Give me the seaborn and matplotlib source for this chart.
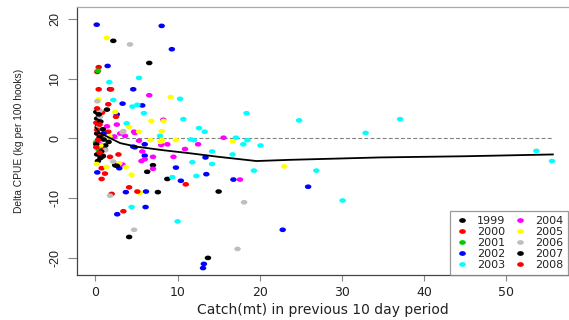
import numpy as np
import pandas as pd
import matplotlib
matplotlib.use("Agg")
import matplotlib.pyplot as plt
from matplotlib.path import Path
from matplotlib.lines import Line2D
import seaborn as sns

plt.rcParams['axes.unicode_minus'] = False

# ---------------- data ----------------
years = ["1999", "2000", "2001", "2002", "2003", "2004", "2005", "2006", "2007", "2008"]
colors = ["#000000", "#FF0000", "#00CD00", "#0000FF", "#00FFFF",
          "#FF00FF", "#FFFF00", "#BEBEBE", "#000000", "#FF0000"]

x_1999 = [0.1, 0.2, 0.3, 0.2, 1.0, 0.4, 0.2, 0.3, 1.2, 2.17, 7.0, 8.75, 4.1, 2.4]
y_1999 = [4.4, 3.3, 2.0, 0.8, -0.2, -1.6, -2.7, -3.8, -1.2, 16.3, -4.5, -6.8, -16.5, -4.5]

x_2000 = [0.39, 0.22, 0.39, 1.56, 0.8, 0.1, 1.56, 0.7, 1.1, 0.9, 2.8, 0.75, 4.1, 1.97, 11.0]
y_2000 = [11.9, 11.1, 8.2, 5.7, 4.3, 2.6, 1.1, 0.5, -1.8, -2.9, -2.7, -5.0, -8.2, -9.3, -7.7]

x_2001 = [0.3, 0.06, 0.4]
y_2001 = [11.3, -0.7, -2.0]

x_2002 = [0.15, 8.06, 9.3, 1.48, 1.77, 4.6, 3.3, 5.7, 2.6, 6.0, 4.6, 4.8, 6.0, 2.9, 0.22,
          9.8, 3.7, 6.15, 6.1, 2.65, 10.4, 13.4, 13.5, 16.8, 25.9, 22.8, 13.2, 13.1, 1.0]
y_2002 = [19.0, 18.8, 14.9, 12.1, 8.2, 8.2, 5.8, 5.5, 4.0, -1.0, -1.4, -1.5, -2.9, -5.0, -5.7,
          -4.9, -9.0, -8.9, -11.5, -12.7, -7.1, -3.2, -6.0, -6.9, -8.1, -15.3, -21.0, -21.7, 0.8]

x_2003 = [1.68, 5.3, 10.3, 2.17, 4.5, 5.1, 5.9, 3.8, 10.7, 12.6, 13.3, 7.86, 12.0, 11.6,
          18.4, 24.8, 32.9, 37.1, 17.1, 18.5, 18.0, 20.1, 14.2, 16.7, 11.8, 14.2, 12.3,
          19.3, 26.9, 9.35, 30.1, 4.4, 10.0, 53.7, 55.6]
y_2003 = [9.4, 10.1, 6.6, 6.4, 5.3, 5.6, 4.2, 2.5, 3.2, 1.7, 1.1, 0.4, -0.3, -0.2,
          4.2, 3.0, 0.9, 3.2, 0.1, -0.3, -1.0, -1.2, -2.2, -2.7, -4.0, -4.3, -6.3,
          -5.4, -5.4, -6.5, -10.4, -11.5, -13.9, -2.1, -3.8]

x_2004 = [6.55, 8.26, 2.6, 3.0, 2.3, 4.7, 3.6, 4.8, 12.5, 8.0, 8.75, 5.3, 10.9, 5.7,
          7.0, 9.5, 5.6, 6.0, 7.0, 3.3, 15.6, 17.6, 0.5, 1.4]
y_2004 = [7.2, 3.1, 2.3, 0.8, 0.3, 1.1, 0.4, 0.9, -1.0, -1.1, -1.0, -0.4, -1.8, -2.2,
          -3.1, -3.1, -3.8, -3.5, -5.1, -4.4, 0.1, -6.9, -1.0, 2.0]

x_2005 = [1.36, 0.4, 9.15, 6.8, 8.3, 2.4, 4.1, 5.3, 8.06, 1.7, 6.7, 8.1, 9.8, 7.9,
          0.15, 1.36, 2.9, 3.7, 4.4, 5.4, 16.7, 23.0, 0.6]
y_2005 = [16.8, 6.5, 6.9, 2.9, 2.9, 4.4, 1.9, 1.1, 1.2, 0.3, -0.3, -0.3, -0.3, -0.6,
          -4.3, -4.8, -4.2, -4.8, -6.1, -9.1, -0.5, -4.7, -1.2]

x_2006 = [4.2, 0.22, 0.5, 0.55, 3.3, 3.4, 2.17, 1.77, 4.7, 18.1, 17.3, 0.3, 1.2]
y_2006 = [15.7, 6.2, 4.6, 3.6, 1.0, 1.2, -3.9, -9.6, -15.3, -10.7, -18.5, 1.8, -2.0]

x_2007 = [0.4, 1.4, 0.6, 0.9, 0.5, 0.1, 0.7, 0.6, 1.6, 2.6, 0.9, 6.55, 6.3, 7.6, 15.0, 13.7]
y_2007 = [4.0, 4.8, 2.8, 1.5, 0.2, -1.0, -2.2, -3.3, -0.6, -4.6, -3.0, 12.6, -5.6, -9.0, -8.9, -20.0]

x_2008 = [1.9, 0.2, 2.5, 0.5, 0.2, 0.3, 0.5, 1.77, 1.16, 0.75, 5.1, 3.4, 0.1]
y_2008 = [8.2, 5.0, 3.6, 2.3, 1.4, -0.3, -2.4, -3.1, -5.9, -6.8, -8.9, -12.2, -1.5]

# smoothed trend line
smooth_x = [0.0, 0.5, 1.4, 3.0, 5.0, 8.3, 11.5, 15.0, 19.6, 23.7, 34.6, 45.0, 55.7]
smooth_y = [1.8, 0.9, 0.3, -0.8, -1.4, -2.0, -2.5, -3.1, -3.8, -3.6, -3.2, -3.0, -2.7]

x_ticks = [0, 10, 20, 30, 40, 50]
y_ticks = [-20, -10, 0, 10, 20]
x_label = "Catch(mt) in previous 10 day period"
y_label = "Delta CPUE (kg per 100 hooks)"

# ---------------- build table ----------------
xs = [x_1999, x_2000, x_2001, x_2002, x_2003, x_2004, x_2005, x_2006, x_2007, x_2008]
ys = [y_1999, y_2000, y_2001, y_2002, y_2003, y_2004, y_2005, y_2006, y_2007, y_2008]
frames = [pd.DataFrame({"catch": xv, "delta": yv, "year": yr}) for xv, yv, yr in zip(xs, ys, years)]
df = pd.concat(frames, ignore_index=True)
palette = dict(zip(years, colors))

# elliptical dot (reference image is horizontally stretched)
circ = Path.unit_circle()
ell = Path(circ.vertices * np.array([1.4, 1.0]), circ.codes)

# ---------------- figure ----------------
W, H = 569, 320
fig = plt.figure(figsize=(W / 100, H / 100), dpi=100)
ax = fig.add_axes([77 / W, 45 / H, 492 / W, 268 / H])

ax.plot([0, 55.6], [0, 0], color="#808080", lw=0.8, ls=(0, (3.5, 2)), zorder=1)

sns.scatterplot(data=df, x="catch", y="delta", hue="year", hue_order=years,
                palette=palette, marker=ell, s=22, linewidth=0, edgecolor="none",
                legend=False, ax=ax, zorder=2)

sns.lineplot(x=smooth_x, y=smooth_y, color="black", lw=1.3, ax=ax, zorder=3,
             estimator=None, sort=False)

ax.set_xlim(-2.25, 57.67)
ax.set_ylim(-22.86, 21.96)
ax.set_xticks(x_ticks)
ax.set_yticks(y_ticks)
ax.set_xticklabels([str(t) for t in x_ticks], fontsize=9, family="DejaVu Sans",
                   color="#222222")
ax.set_yticklabels([str(t) for t in y_ticks], fontsize=9, family="Liberation Sans",
                   rotation=90, va="center", color="#222222")
ax.tick_params(axis="x", length=4.3, width=0.8, color="#888888", pad=3.5)
ax.tick_params(axis="y", length=6.5, width=0.8, color="#888888", pad=5)

for side in ["left", "bottom"]:
    ax.spines[side].set_color("#444444")
    ax.spines[side].set_linewidth(0.9)
ax.spines["top"].set_color("#aaaaaa")
ax.spines["top"].set_linewidth(0.9)
ax.spines["right"].set_visible(False)

ax.set_xlabel(x_label, fontsize=10, family="DejaVu Sans", color="#222222")
ax.set_ylabel(y_label, fontsize=7.4, family="Liberation Sans", color="#222222")
ax.xaxis.set_label_coords(0.5, (275 - 310) / 268)
ax.yaxis.set_label_coords((19.5 - 77) / 492, 0.5)
ax.xaxis.label.set_va("center")
ax.yaxis.label.set_va("center")

handles = [Line2D([], [], ls="none", marker=ell, ms=4.8, mfc=c, mec="none") for c in colors]
leg = ax.legend(handles, years, ncol=2, loc="lower left",
                bbox_to_anchor=(450 / W, 45 / H), bbox_transform=fig.transFigure,
                borderaxespad=0, fontsize=8, frameon=True, fancybox=False,
                handlelength=1.2, handletextpad=0.75, columnspacing=0.76,
                labelspacing=0.1, borderpad=0.45)
leg.get_frame().set_edgecolor("#808080")
leg.get_frame().set_linewidth(0.9)
for t in leg.get_texts():
    t.set_family("DejaVu Sans")
    t.set_color("#222222")

fig.savefig("out.png", dpi=100)
